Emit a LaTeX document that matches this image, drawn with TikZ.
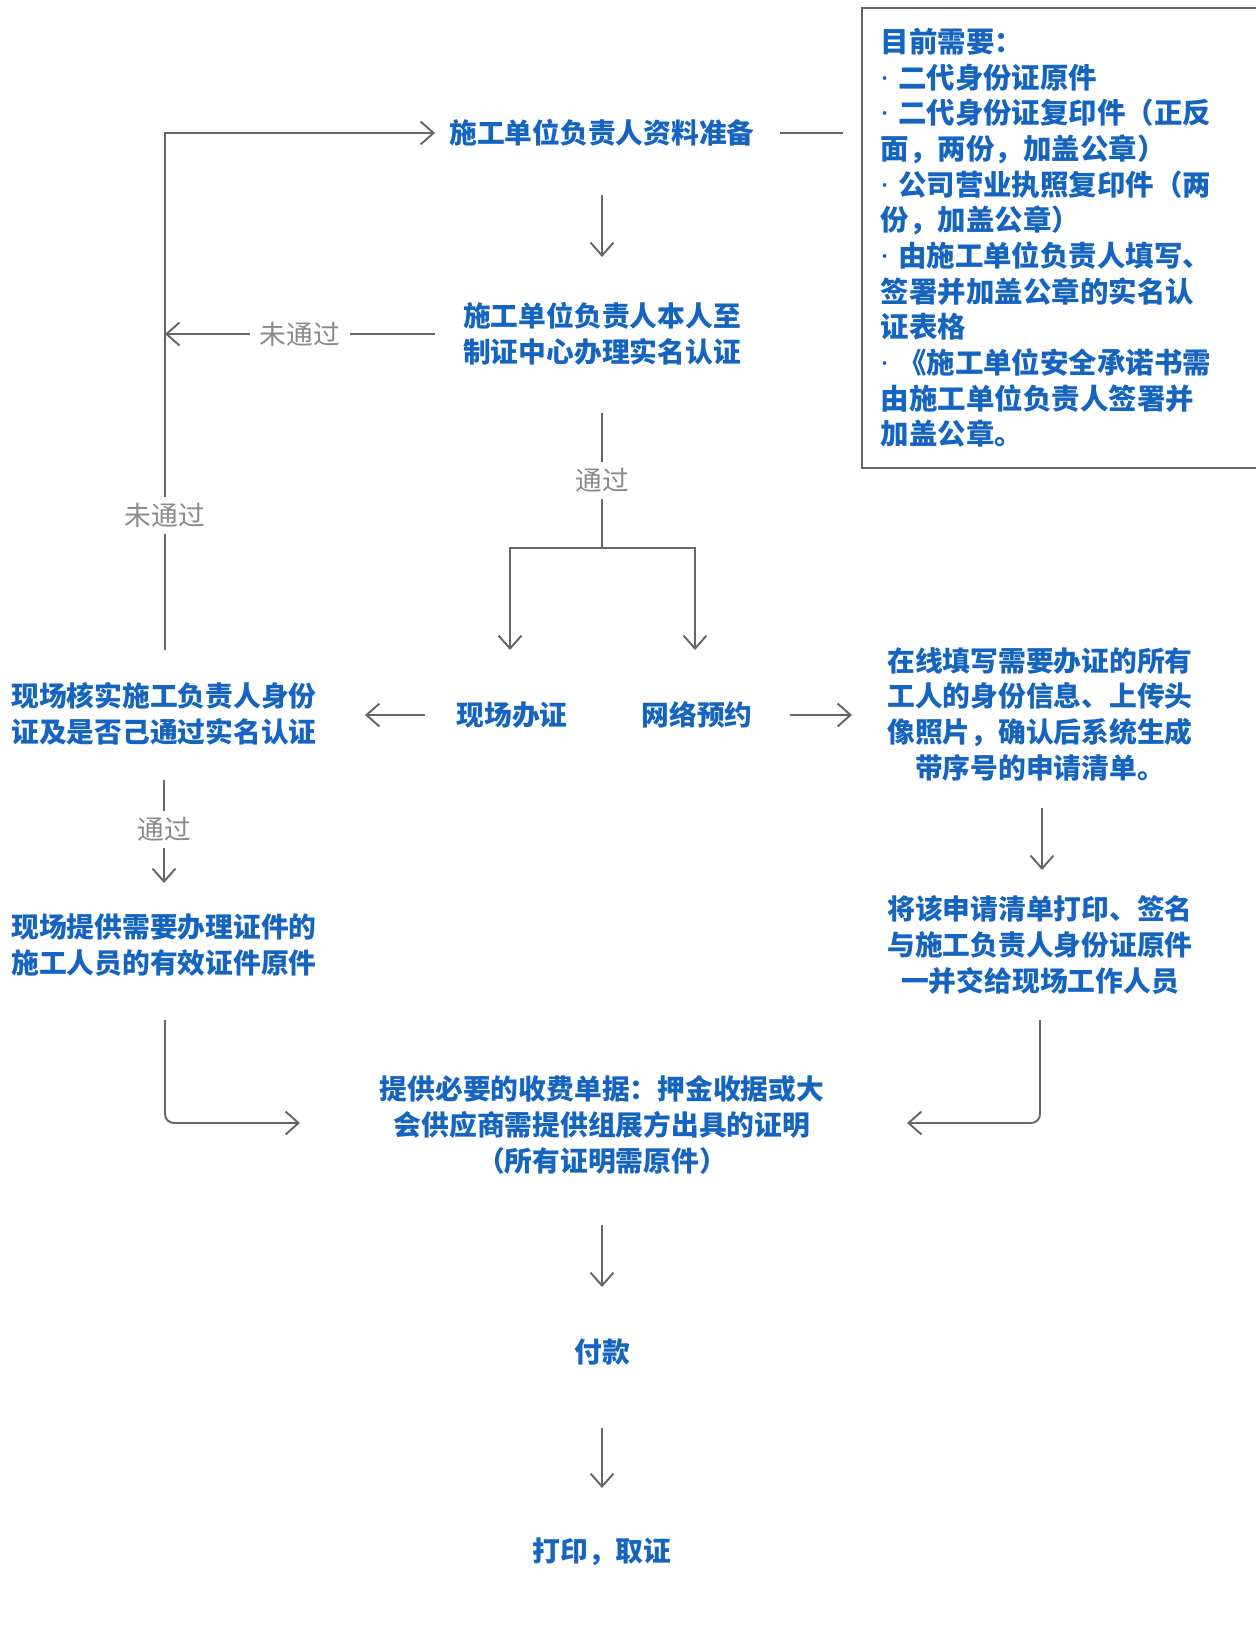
\documentclass[tikz,border=0pt]{standalone}
\usepackage{fontspec}
\setmainfont{Noto Sans CJK SC}
\newfontfamily\dotfont{Noto Sans}
\usepackage{tikz}
\usetikzlibrary{positioning}
\usetikzlibrary{arrows.meta}
\usetikzlibrary{calc}
\definecolor{flowblue}{HTML}{1565C0}
\definecolor{linegray}{HTML}{666666}
\definecolor{taggray}{HTML}{8A8A8A}
\newcommand\bul{{\dotfont\bfseries ·\ }}
\tikzset{
  flowtext/.style={text=flowblue,font=\fontsize{15.8pt}{20.3pt}\selectfont\bfseries,align=center,inner sep=0},
  link/.style={draw=linegray,line width=1.1pt},
  arr/.style={link,-{Straight Barb[length=0.26cm,width=0.46cm]}},
  tag/.style={fill=white,text=taggray,font=\fontsize{15.2pt}{18pt}\selectfont,inner xsep=5.5pt,inner ysep=3.4pt},
  docbox/.style={draw=linegray,line width=1.1pt,text=flowblue,font=\fontsize{16.2pt}{20.3pt}\selectfont\bfseries,
    align=left,text width=7.5cm,inner xsep=0.38cm,inner ysep=0,minimum height=9.2cm}
}
\begin{document}
\begin{tikzpicture}[x=0.02cm,y=-0.02cm]
  \useasboundingbox (0,0) rectangle (1255,1638);
  % steps
  \node[flowtext] (prep) at (602,133) {施工单位负责人资料准备};
  \node[flowtext] (verify) at (602,334) {施工单位负责人本人至\\制证中心办理实名认证};
  \node[flowtext] (onsite) at (512,715) {现场办证};
  \node[flowtext] (online) at (697,715) {网络预约};
  \node[flowtext] (check) at (164,714) {现场核实施工负责人身份\\证及是否己通过实名认证};
  \node[flowtext] (supply) at (164,945) {现场提供需要办理证件的\\施工人员的有效证件原件};
  \node[flowtext] (fillin) at (1040,714) {在线填写需要办证的所有\\工人的身份信息、上传头\\像照片，确认后系统生成\\带序号的申请清单。};
  \node[flowtext] (printlist) at (1040,945) {将该申请清单打印、签名\\与施工负责人身份证原件\\一并交给现场工作人员};
  \node[flowtext] (fees) at (602,1125) {提供必要的收费单据：押金收据或大\\会供应商需提供组展方出具的证明\\（所有证明需原件）};
  \node[flowtext] (pay) at (602,1352) {付款};
  \node[flowtext] (issue) at (602,1552) {打印，取证};
  % what to bring
  \node[docbox,anchor=north west] (docs) at (861,7) {目前需要：\\
    \bul 二代身份证原件\\
    \bul 二代身份证复印件（正反\\
    面，两份，加盖公章）\\
    \bul 公司营业执照复印件（两\\
    份，加盖公章）\\
    \bul 由施工单位负责人填写、\\
    签署并加盖公章的实名认\\
    证表格\\
    \bul 《施工单位安全承诺书需\\
    由施工单位负责人签署并\\
    加盖公章。};
  \coordinate (docsin) at (843,133);
  % connectors
  \draw[link] ($(prep)+(178,0)$) -- (docsin);
  \draw[arr] ($(prep)+(0,62)$) -- ($(verify)+(0,-77)$);
  \draw[arr] ($(verify)+(-167,0)$) -- node[tag]{未通过} ($(check)+(1,-380)$);
  \draw[arr] ($(check)+(1,-64)$) |- node[tag,pos=0.13]{未通过} ($(prep)+(-167,0)$);
  \draw[link] ($(verify)+(0,79)$) -- node[tag]{通过} ++(0,135) coordinate (split);
  \draw[arr] (split) -| ($(onsite)+(-2,-65)$);
  \draw[arr] (split) -| ($(online)+(-2,-65)$);
  \draw[arr] ($(onsite)+(-87,0)$) -- ($(check)+(201,1)$);
  \draw[arr] ($(online)+(93,0)$) -- ($(fillin)+(-188,1)$);
  \draw[arr] ($(fillin)+(2,94)$) -- ($(printlist)+(2,-75)$);
  \draw[arr] ($(check)+(0,66)$) -- node[tag,pos=0.48]{通过} ($(supply)+(0,-62)$);
  \draw[arr,rounded corners=5pt] ($(supply)+(1,75)$) |- ($(fees)+(-302,-2)$);
  \draw[arr,rounded corners=5pt] ($(printlist)+(0,75)$) |- ($(fees)+(305,-2)$);
  \draw[arr] ($(fees)+(0,100)$) -- ($(pay)+(0,-65)$);
  \draw[arr] ($(pay)+(0,76)$) -- ($(issue)+(0,-64)$);
\end{tikzpicture}
\end{document}
